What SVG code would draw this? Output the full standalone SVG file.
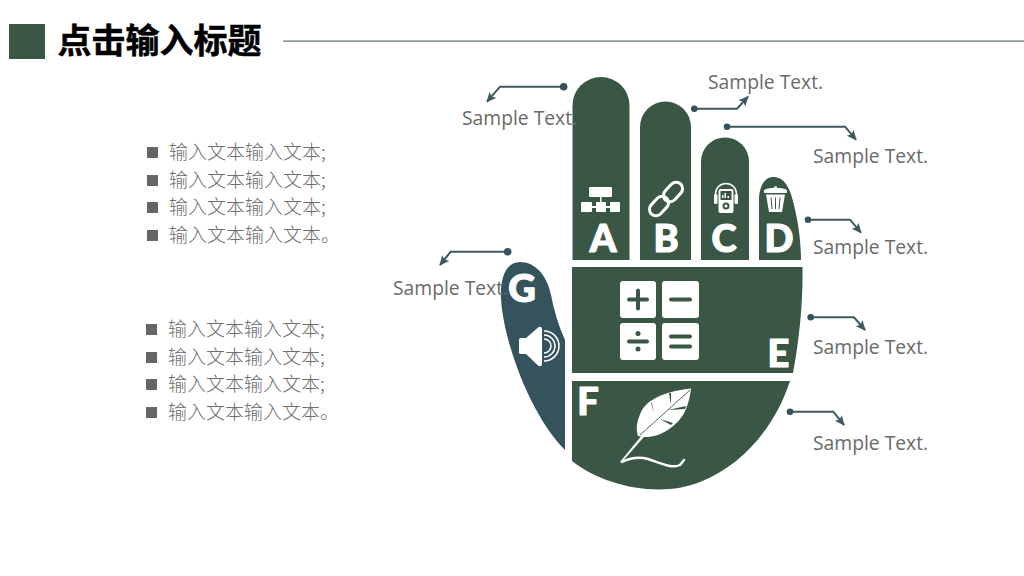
<svg xmlns="http://www.w3.org/2000/svg" width="1024" height="576" viewBox="0 0 1024 576">
<style>
.h{fill:#3a5745}
.g{fill:#34535c}
.w{fill:#fff}
.ws{fill:none;stroke:#fff}
.l{font-family:"Lato","Inter","Liberation Sans",sans-serif;font-weight:900;font-size:38px;fill:#fff;stroke:#fff;stroke-width:1.2px;stroke-linejoin:round;text-anchor:middle}
.s{font-family:"Open Sans","Noto Sans",sans-serif;font-size:19.3px;fill:#6a6a6a}
.b{font-family:"Noto Sans CJK SC",sans-serif;font-size:19px;font-weight:300;fill:#6e6e6e}
.q{fill:#666}
.c{fill:none;stroke:#3f5a5c;stroke-width:2}
.dot{fill:#34535c}
</style>
<defs><marker id="a" markerUnits="userSpaceOnUse" markerWidth="11" markerHeight="10" refX="9" refY="4.5" orient="auto"><path d="M0 0L10 4.500L0 9L2 4.500Z" fill="#3f5a5c"/></marker></defs>
<g id="title">
<rect x="9" y="24" width="36" height="35" class="h"/>
<text x="57.500" y="53" font-family="Noto Sans CJK SC,sans-serif" font-weight="700" font-size="34" fill="#000" stroke="#000" stroke-width="0.5">点击输入标题</text>
<rect x="283" y="40.500" width="741" height="1.200" fill="#5f6f66"/>
</g>
<g id="list1">
<rect x="147" y="147" width="11" height="11" class="q"/><text x="169" y="159" class="b">输入文本输入文本;</text>
<rect x="147" y="175" width="11" height="11" class="q"/><text x="169" y="187" class="b">输入文本输入文本;</text>
<rect x="147" y="202" width="11" height="11" class="q"/><text x="169" y="214" class="b">输入文本输入文本;</text>
<rect x="147" y="230" width="11" height="11" class="q"/><text x="169" y="242" class="b">输入文本输入文本。</text>
</g>
<g id="list2">
<rect x="146" y="324" width="11" height="11" class="q"/><text x="168" y="336" class="b">输入文本输入文本;</text>
<rect x="146" y="352" width="11" height="11" class="q"/><text x="168" y="364" class="b">输入文本输入文本;</text>
<rect x="146" y="379" width="11" height="11" class="q"/><text x="168" y="391" class="b">输入文本输入文本;</text>
<rect x="146" y="407" width="11" height="11" class="q"/><text x="168" y="419" class="b">输入文本输入文本。</text>
</g>
<g id="node-A">
<path class="h" d="M572.500 260V105.500A28.500 28.500 0 0 1 629.500 105.500V260Z"/>
<g class="w"><rect x="589" y="187" width="23" height="10" rx="1"/><rect x="581" y="202" width="11" height="10" rx="1"/><rect x="596" y="202" width="10" height="10" rx="1"/><rect x="610" y="202" width="10" height="10" rx="1"/><rect x="600" y="197" width="1.500" height="6"/><rect x="590" y="206" width="22" height="2"/></g>
<text x="603" y="252" class="l">A</text>
</g>
<g id="node-B">
<path class="h" d="M640 260V127A25.500 25.500 0 0 1 691 127V260Z"/>
<g class="ws" stroke-width="3"><rect x="-6.500" y="-11" width="13" height="22" rx="6.500" transform="translate(673 192) rotate(43)"/><rect x="-6.500" y="-11" width="13" height="22" rx="6.500" transform="translate(659 206) rotate(43)"/></g>
<text x="666" y="252" class="l">B</text>
</g>
<g id="node-C">
<path class="h" d="M701 260V161.500A24 24 0 0 1 749 161.500V260Z"/>
<path class="ws" stroke-width="1.500" d="M715.500 198V194A10.500 10.500 0 0 1 736.500 194V198"/>
<rect class="w" x="714" y="194" width="3.500" height="10" rx="1.500"/><rect class="w" x="734.500" y="194" width="3.500" height="10" rx="1.500"/>
<rect class="w" x="718.500" y="189" width="15" height="24" rx="2"/>
<rect class="h" x="720.500" y="191" width="11" height="9"/>
<path class="w" d="M722 198v-3h1.500v3zM724.500 198v-5h1.500v5zM727.500 198v-2h1.500v2z"/>
<circle cx="726" cy="206" r="3.500" class="h"/><circle cx="726" cy="206" r="1.500" class="w"/>
<text x="724" y="252" class="l">C</text>
</g>
<g id="node-D">
<path class="h" d="M759 260V200C759 186 765 177 773 177C784 177 790 187 794 205C798 222 801 240 801 260Z"/>
<path class="w" d="M764 190.500C765 188.500 771 188 774 188V186.500H777V188C780 188 786 188.500 787 190.500V193H764Z"/>
<path class="w" d="M766 194.500H785L782 212H769Z"/>
<path fill="none" stroke="#3a5745" stroke-width="1" d="M771 197.500L772 209M775.500 197.500V209M780 197.500L779 209"/>
<text x="779" y="252" class="l">D</text>
</g>
<g id="node-E">
<path class="h" d="M572 267H802.500C803 305 799 340 793 373H572Z"/>
<rect class="w" x="620" y="281" width="36" height="37" rx="3"/><rect class="w" x="662" y="281" width="37" height="37" rx="3"/><rect class="w" x="620" y="323" width="36" height="37" rx="3"/><rect class="w" x="662" y="323" width="37" height="37" rx="3"/>
<path fill="none" stroke="#3a5745" stroke-width="4" stroke-linecap="round" d="M629 299.500H647M638 290.500V308.500M671 299.500H690M629 341.500H647M671 336.500H690M671 346.500H690"/>
<circle class="h" cx="638" cy="333.500" r="2.500"/><circle class="h" cx="638" cy="349" r="2.500"/>
<text x="778.500" y="367" class="l">E</text>
</g>
<g id="node-F">
<path class="h" d="M572 381H790C776 424 745 464 700 482C660 498 605 487 572 461Z"/>
<path class="w" d="M691 388.500C670 391 648 397 641 412C636 423 636 430 638 436C655 441 675 428 683 415C688 406 690 397 691 388.500Z"/>
<path class="h" d="M651 402L654 414L652 403ZM669 393L671 405L671 393ZM686 406L668 410L685 409ZM673 423L660 419L671 425Z"/>
<path fill="none" stroke="#3a5745" stroke-width="0.900" d="M690 390L640 435"/>
<path class="w" d="M647 429L650 430L622 462L620 462Z"/>
<path class="ws" stroke-width="2.500" stroke-linecap="round" d="M622 462C630 458 638 456 648 459C660 463 672 469 680 465L684 460"/>
<text x="588" y="415" class="l">F</text>
</g>
<g id="node-G">
<path class="g" d="M565 450V340C558 325 554 310 551 295C547 275 535 262 520 262C505 262 500 280 501 298C503 340 530 415 565 450Z"/>
<path class="w" d="M519 339.500C519 338.500 520 338 521 338H526L538 327.500C540 326 542 327 542 329V364C542 366 540 367 538 365.500L526 354H521C520 354 519 353.500 519 352.500Z"/>
<g class="ws" stroke-width="1.500"><path d="M544 339A7 7 0 0 1 544 353"/><path d="M544 335A11 11 0 0 1 544 357"/><path d="M544 331A15 15 0 0 1 544 361"/></g>
<text x="522" y="302" class="l">G</text>
</g>
<g id="connectors">
<polyline class="c" points="563.700,86.700 500,86.700 487,101.700" marker-end="url(#a)"/><circle class="dot" cx="563.700" cy="86.700" r="3.800"/>
<polyline class="c" points="507.700,251.700 450.700,251.700 440,265" marker-end="url(#a)"/><circle class="dot" cx="507.700" cy="251.700" r="3.800"/>
<polyline class="c" points="694.300,108.700 737,108.700 748,96.700" marker-end="url(#a)"/><circle class="dot" cx="694.300" cy="108.700" r="3.300"/>
<polyline class="c" points="727,126.700 845,126.700 856,139.700" marker-end="url(#a)"/><circle class="dot" cx="727" cy="126.700" r="3.300"/>
<polyline class="c" points="808,219.700 850,219.700 861,232.700" marker-end="url(#a)"/><circle class="dot" cx="808" cy="219.700" r="3.300"/>
<polyline class="c" points="810.700,317.300 854,317.300 865,330" marker-end="url(#a)"/><circle class="dot" cx="810.700" cy="317.300" r="3.300"/>
<polyline class="c" points="790,411.700 833.300,411.700 844,425" marker-end="url(#a)"/><circle class="dot" cx="790" cy="411.700" r="3.300"/>
</g>
<g id="labels">
<text x="462" y="125" class="s">Sample Text.</text>
<text x="708" y="89" class="s">Sample Text.</text>
<text x="813" y="163" class="s">Sample Text.</text>
<text x="813" y="254" class="s">Sample Text.</text>
<text x="813" y="354" class="s">Sample Text.</text>
<text x="813" y="450" class="s">Sample Text.</text>
<text x="393" y="295" class="s">Sample Text.</text>
</g>
</svg>
